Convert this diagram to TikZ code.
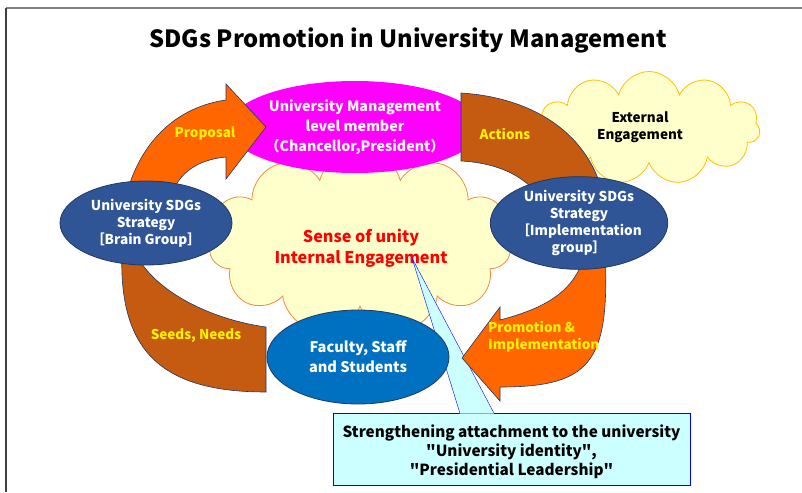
\documentclass[tikz,border=0pt]{standalone}
\usepackage{fontspec}
\setmainfont{Noto Sans CJK JP}
\usetikzlibrary{shapes.geometric,shapes.symbols}

\definecolor{brightorange}{HTML}{FF6600}
\definecolor{rustorange}{HTML}{C55A11}
\definecolor{boardpink}{HTML}{FF00FF}
\definecolor{strategyblue}{HTML}{2F5597}
\definecolor{memberblue}{HTML}{0070C0}
\definecolor{edgeblue}{HTML}{203864}
\definecolor{creamy}{HTML}{FFFFCC}
\definecolor{cloudorange}{HTML}{F58A3C}
\definecolor{cloudgold}{HTML}{FFC000}
\definecolor{notecyan}{HTML}{CCFFFF}

\begin{document}
\begin{tikzpicture}[x=1pt,y=-1pt,
    blob/.style={ellipse,draw=edgeblue,line width=0.8pt,text=white,align=center,inner sep=0pt,
      font=\bfseries\fontsize{13.6}{17}\selectfont},
    band/.style={draw=edgeblue,line width=0.6pt},
    lbl/.style={text=yellow,font=\bfseries\fontsize{13.5}{17}\selectfont},
    puff/.style={cloud,cloud puffs=11,cloud ignores aspect,fill=creamy,line width=0.8pt,inner sep=0pt}]

  \useasboundingbox (0,0) rectangle (802,492);
  % frame
  \draw[gray,line width=2pt] (6,8) -- (802,8);
  \draw[black!75,line width=2pt] (6,8) -- (6,492);

  \node (title) at (408,40) {\fontsize{23.7}{28}\selectfont\bfseries SDGs Promotion in University Management};

  % clouds
  \node[puff,draw=cloudorange,minimum width=302,minimum height=185] (unity) at (360,242) {};
  \node[text=red,align=center,font=\bfseries\fontsize{16.2}{21}\selectfont] (unitytext) at (361,248)
    {Sense of unity\\Internal Engagement};
  \node[puff,draw=cloudgold,minimum width=222,minimum height=113] (outside) at (649,128) {};
  \node[align=center,font=\bfseries\fontsize{13.5}{17}\selectfont] (outsidetext) at (640,127)
    {External\\Engagement};

  % callout
  \node[draw=blue,fill=notecyan,minimum width=357,minimum height=72,inner sep=0pt] (note) at (511.5,449) {};
  \node[align=center,font=\bfseries\fontsize{15.3}{19}\selectfont] (notetext) at (511.5,452)
    {Strengthening attachment to the university\\\textquotedbl University identity\textquotedbl,\\\textquotedbl Presidential Leadership\textquotedbl};
  \coordinate (tip) at (412,258);
  \fill[notecyan] ([xshift=127pt,yshift=-0.8pt]note.north west) -- (tip) -- ([xshift=161pt,yshift=-0.8pt]note.north west) -- cycle;
  \draw[blue] ([xshift=127pt]note.north west) -- (tip) -- ([xshift=161pt]note.north west);

  \node[ellipse,fill=boardpink,minimum width=224,minimum height=92,inner sep=0pt,text=white,align=center,
    font=\bfseries\fontsize{14.2}{20}\selectfont] (board) at (355,127)
    {University Management\\level member\\（Chancellor,President）};

  % circular arrows
  \filldraw[band,fill=brightorange] (124,205) .. controls (135,150) and (170,108) .. (226,100)
    -- (226,84) -- (266,127) -- (226,179) -- (226,157) .. controls (195,160) and (175,175) .. (168,205) -- cycle;
  \filldraw[band,fill=rustorange] (461,93) .. controls (540,98) and (595,140) .. (605,205)
    -- (545,205) .. controls (530,178) and (500,163) .. (461,161) -- cycle;
  \filldraw[band,fill=brightorange] (604,235) .. controls (612,360) and (595,387) .. (500,387)
    -- (500,401) -- (462,358) -- (500,307) -- (500,320) .. controls (545,308) and (585,290) .. (587,235) -- cycle;
  \filldraw[band,fill=rustorange] (266,392) .. controls (160,392) and (118,350) .. (122,250)
    -- (138,258) .. controls (160,295) and (215,320) .. (266,327) -- cycle;

  % groups
  \node[blob,fill=strategyblue,minimum width=172,minimum height=84] (brain) at (146,223)
    {University SDGs\\Strategy\\［Brain Group］};
  \node[blob,fill=strategyblue,minimum width=172,minimum height=86] (impl) at (579,223)
    {University SDGs\\Strategy\\［Implementation\\group］};
  \node[blob,fill=memberblue,minimum width=182,minimum height=94,
    font=\bfseries\fontsize{14.6}{20}\selectfont] (members) at (358,357) {Faculty, Staff\\and Students};

  % arrow labels
  \node[lbl] (proposal) at (205,134) {Proposal};
  \node[lbl] (actions) at (505,134) {Actions};
  \node[lbl] (seeds) at (196,336) {Seeds, Needs};
  \node[lbl,anchor=west,align=left,inner sep=0pt] (promo) at (488,337) {Promotion \&\\Implementation};
\end{tikzpicture}
\end{document}
